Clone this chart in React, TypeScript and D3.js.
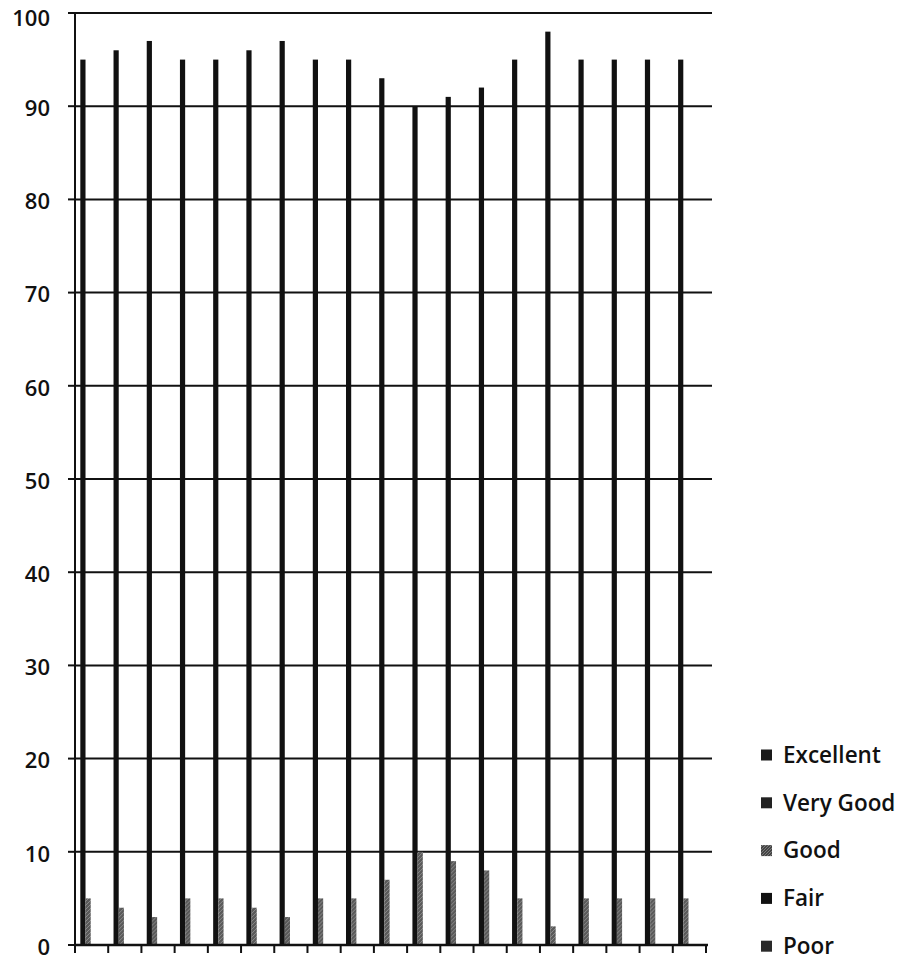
import React from "react";
import * as d3 from "d3";

const categories = ["1","2","3","4","5","6","7","8","9","10","11","12","13","14","15","16","17","18","19"];
const seriesNames = ["Excellent", "Very Good", "Good", "Fair", "Poor"];
const excellent = [95, 96, 97, 95, 95, 96, 97, 95, 95, 93, 90, 91, 92, 95, 98, 95, 95, 95, 95];
const veryGood = [0, 0, 0, 0, 0, 0, 0, 0, 0, 0, 0, 0, 0, 0, 0, 0, 0, 0, 0];
const good = [5, 4, 3, 5, 5, 4, 3, 5, 5, 7, 10, 9, 8, 5, 2, 5, 5, 5, 5];
const fair = [0, 0, 0, 0, 0, 0, 0, 0, 0, 0, 0, 0, 0, 0, 0, 0, 0, 0, 0];
const poor = [0, 0, 0, 0, 0, 0, 0, 0, 0, 0, 0, 0, 0, 0, 0, 0, 0, 0, 0];
const yTicks = [0, 10, 20, 30, 40, 50, 60, 70, 80, 90, 100];

const seriesValues: Record<string, number[]> = {
  "Excellent": excellent,
  "Very Good": veryGood,
  "Good": good,
  "Fair": fair,
  "Poor": poor,
};
// drawing order inside each cluster as seen in the picture
const clusterOrder = ["Excellent", "Good", "Very Good", "Fair", "Poor"];
const fills: Record<string, string> = {
  "Excellent": "#111",
  "Very Good": "#222",
  "Good": "url(#hatch)",
  "Fair": "#151515",
  "Poor": "#333",
};
const legendFills: Record<string, string> = {
  "Excellent": "#1a1a1a",
  "Very Good": "#222",
  "Good": "url(#hatchL)",
  "Fair": "#111",
  "Poor": "#2a2a2a",
};

export default function App() {
  const W = 913, H = 961;
  const left = 75, right = 706, top = 13, bottom = 945;
  const x0 = d3.scaleBand<string>().domain(categories).range([left, right]).paddingInner(0).paddingOuter(0);
  const bw = x0.bandwidth();
  const x1 = d3.scaleBand<string>().domain(clusterOrder).range([bw * 0.16, bw * 0.16 + 5 * 5.2]).padding(0);
  const y = d3.scaleLinear().domain([0, 100]).range([bottom, top]);
  const font = "'Open Sans', 'Liberation Sans', sans-serif";

  return (
    <svg width={W} height={H} style={{ position: "absolute", left: 0, top: 0, background: "#fff" }}>
      <defs>
        <pattern id="hatch" width="4" height="4" patternUnits="userSpaceOnUse">
          <rect width="4" height="4" fill="#5a5a5a" />
          <path d="M0,4 L4,0" stroke="#8a8a8a" strokeWidth="1" />
        </pattern>
        <pattern id="hatchL" width="3" height="3" patternUnits="userSpaceOnUse">
          <rect width="3" height="3" fill="#444" />
          <path d="M0,3 L3,0" stroke="#888" strokeWidth="0.8" />
        </pattern>
      </defs>
      <rect width={W} height={H} fill="#fff" />
      {/* gridlines */}
      {yTicks.filter(t => t > 0).map(t => (
        <line key={"g" + t} x1={left} x2={712} y1={y(t)} y2={y(t)} stroke="#111" strokeWidth={2} />
      ))}
      {/* y axis */}
      <line x1={left} x2={left} y1={y(100)} y2={bottom} stroke="#111" strokeWidth={2} />
      {yTicks.map(t => (
        <g key={"t" + t}>
          <line x1={68} x2={left} y1={y(t)} y2={y(t)} stroke="#111" strokeWidth={2} />
          <text x={50} y={y(t) + (t === 100 ? 5 : 2)} dy="0.35em" textAnchor="end" fontFamily={font} fontWeight={600} fontSize={22} fill="#111">{t}</text>
        </g>
      ))}
      {/* bars */}
      {categories.map((c, i) => (
        <g key={"c" + c} transform={`translate(${x0(c)},0)`}>
          {clusterOrder.map(s => {
            const v = seriesValues[s][i];
            if (v <= 0) return null;
            return (
              <rect key={s} x={x1(s)} width={x1.bandwidth()} y={y(v)} height={bottom - y(v)} fill={fills[s]} />
            );
          })}
        </g>
      ))}
      {/* x axis */}
      <line x1={left} x2={right + 2} y1={bottom} y2={bottom} stroke="#111" strokeWidth={2.5} />
      {[...categories.map(c => x0(c) as number), right].map((xx, i) => (
        <line key={"xt" + i} x1={xx} x2={xx} y1={bottom} y2={bottom + 8} stroke="#111" strokeWidth={2} />
      ))}
      {/* legend */}
      {seriesNames.map((s, i) => {
        const ly = 755 + i * 47.8;
        return (
          <g key={"l" + s}>
            <rect x={761} y={ly - 5.5} width={11} height={11} fill={legendFills[s]} />
            <text x={783} y={ly} dy="0.35em" fontFamily={font} fontWeight={600} fontSize={22.5} fill="#111">{s}</text>
          </g>
        );
      })}
    </svg>
  );
}
